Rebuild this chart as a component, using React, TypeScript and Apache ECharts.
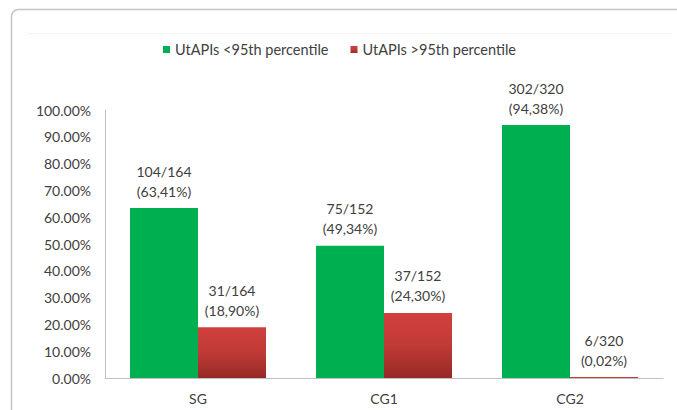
import React, { useEffect, useRef } from "react";
import * as echarts from "echarts";

const categories = ["SG", "CG1", "CG2"];
const seriesNames = ["UtAPIs <95th percentile", "UtAPIs >95th percentile"];
const belowValues = [0.6341, 0.4934, 0.9438];
const aboveValues = [0.189, 0.243, 0.0002];
const belowCounts = ["104/164", "75/152", "302/320"];
const aboveCounts = ["31/164", "37/152", "6/320"];
const yTicks = [0, 0.1, 0.2, 0.3, 0.4, 0.5, 0.6, 0.7, 0.8, 0.9, 1.0];

const FONT = "Lato, 'Open Sans', sans-serif";
const TEXT = "#404040";

const pct = (v: number) => (v * 100).toFixed(2).replace(".", ",") + "%";

export default function App() {
  const ref = useRef<HTMLDivElement>(null);
  useEffect(() => {
    if (!ref.current) return;
    const chart = echarts.init(ref.current, undefined, { renderer: "svg" });
    const labelStyle = {
      show: true,
      position: "top" as const,
      distance: 7,
      color: TEXT,
      fontSize: 14,
      fontFamily: FONT,
      lineHeight: 20,
      align: "center" as const,
    };
    chart.setOption({
      animation: false,
      backgroundColor: "#ffffff",
      textStyle: { fontFamily: FONT },
      graphic: [
        {
          type: "rect",
          shape: { x: 11.5, y: 9.5, width: 720, height: 440, r: 7 },
          style: { fill: "none", stroke: "#c4c4c4", lineWidth: 1.5 },
          silent: true,
          z: -1,
        },
        {
          type: "line",
          shape: { x1: 28, y1: 33.5, x2: 672, y2: 33.5 },
          style: { stroke: "#f2f2f2", lineWidth: 1 },
          silent: true,
          z: -1,
        },
      ],
      legend: {
        data: seriesNames,
        left: 158,
        top: 37,
        itemWidth: 7,
        itemHeight: 7,
        itemGap: 22,
        icon: "rect",
        textStyle: { color: TEXT, fontSize: 14.5, fontFamily: FONT },
      },
      grid: { left: 105, right: 14, top: 110, bottom: 32, containLabel: false },
      xAxis: {
        type: "category",
        data: categories,
        axisLine: { show: true, lineStyle: { color: "#bfbfbf", width: 1 } },
        axisTick: { show: false },
        axisLabel: { color: TEXT, fontSize: 14, fontFamily: FONT, margin: 13 },
      },
      yAxis: {
        type: "value",
        min: yTicks[0],
        max: yTicks[yTicks.length - 1],
        interval: 0.1,
        axisLine: { show: true, lineStyle: { color: "#bfbfbf", width: 1 } },
        axisTick: { show: false },
        splitLine: { show: false },
        axisLabel: {
          color: TEXT,
          fontSize: 14,
          fontFamily: FONT,
          margin: 14,
          formatter: (v: number) => (v * 100).toFixed(2) + "%",
        },
      },
      series: [
        {
          name: seriesNames[0],
          type: "bar",
          data: belowValues,
          barWidth: 68,
          barGap: "0%",
          itemStyle: { color: "#00b050" },
          label: {
            ...labelStyle,
            formatter: (p: any) => belowCounts[p.dataIndex] + "\n(" + pct(p.value) + ")",
          },
        },
        {
          name: seriesNames[1],
          type: "bar",
          data: aboveValues,
          barWidth: 68,
          barGap: "0%",
          barMinHeight: 1,
          itemStyle: {
            color: new echarts.graphic.LinearGradient(0, 0, 0, 1, [
              { offset: 0, color: "#d0403d" },
              { offset: 0.5, color: "#c03a36" },
              { offset: 1, color: "#962a26" },
            ]),
          },
          label: {
            ...labelStyle,
            formatter: (p: any) => aboveCounts[p.dataIndex] + "\n(" + pct(p.value) + ")",
          },
        },
      ],
    });
    return () => chart.dispose();
  }, []);
  return (
    <div
      ref={ref}
      style={{ position: "fixed", left: 0, top: 0, width: 677, height: 410 }}
    />
  );
}
